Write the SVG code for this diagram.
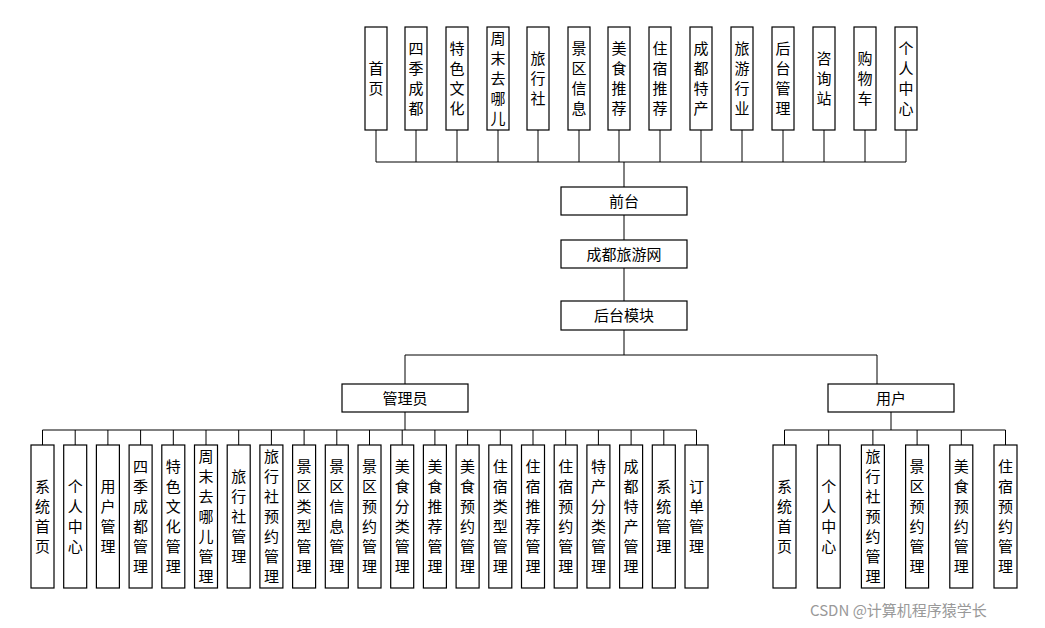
<svg xmlns="http://www.w3.org/2000/svg" width="1045" height="628" viewBox="0 0 1045 628">
<style>
rect{fill:#fff;stroke:#000;stroke-width:1.2}
text{font-family:"Noto Sans CJK SC","Liberation Sans",sans-serif;font-size:15px;fill:#000;text-anchor:middle}
.c line,.c path{stroke:#000;stroke-width:1;fill:none}
.wm{fill:#999;font-size:15px;text-anchor:start}
</style>
<rect x="0" y="0" width="1045" height="628" style="fill:#fff;stroke:none"/>
<g class="c">
<path d="M376 130V162M416 130V162M457 130V162M498 130V162M538 130V162M579 130V162M619 130V162M660 130V162M701 130V162M742 130V162M783 130V162M824 130V162M865 130V162M906 130V162M376 162H906M624 162V187M624 215V240M624 268V301M624 330V355M405 355H877M405 355V384M877 355V384M405 412V430M891 412V430M42.5 430H696.5M784.5 430H1005.5"/>
<path d="M42.5 430V445M75.2 430V445M107.9 430V445M140.6 430V445M173.3 430V445M206 430V445M238.7 430V445M271.4 430V445M304.1 430V445M336.8 430V445M369.5 430V445M402.2 430V445M434.9 430V445M467.6 430V445M500.3 430V445M533 430V445M565.7 430V445M598.4 430V445M631.1 430V445M663.8 430V445M696.5 430V445"/>
<path d="M784.5 430V445M828.7 430V445M872.9 430V445M917.1 430V445M961.3 430V445M1005.5 430V445"/>
</g>
<g id="top">
<g id="t1"><rect x="365" y="27" width="22" height="103"/><text x="376" y="74"><tspan x="376">首</tspan><tspan x="376" dy="20">页</tspan></text></g>
<g id="t2"><rect x="405" y="27" width="22" height="103"/><text x="416" y="54"><tspan x="416">四</tspan><tspan x="416" dy="20">季</tspan><tspan x="416" dy="20">成</tspan><tspan x="416" dy="20">都</tspan></text></g>
<g id="t3"><rect x="446" y="27" width="22" height="103"/><text x="457" y="54"><tspan x="457">特</tspan><tspan x="457" dy="20">色</tspan><tspan x="457" dy="20">文</tspan><tspan x="457" dy="20">化</tspan></text></g>
<g id="t4"><rect x="487" y="27" width="22" height="103"/><text x="498" y="44"><tspan x="498">周</tspan><tspan x="498" dy="20">末</tspan><tspan x="498" dy="20">去</tspan><tspan x="498" dy="20">哪</tspan><tspan x="498" dy="20">儿</tspan></text></g>
<g id="t5"><rect x="527" y="27" width="22" height="103"/><text x="538" y="64"><tspan x="538">旅</tspan><tspan x="538" dy="20">行</tspan><tspan x="538" dy="20">社</tspan></text></g>
<g id="t6"><rect x="568" y="27" width="22" height="103"/><text x="579" y="54"><tspan x="579">景</tspan><tspan x="579" dy="20">区</tspan><tspan x="579" dy="20">信</tspan><tspan x="579" dy="20">息</tspan></text></g>
<g id="t7"><rect x="608" y="27" width="22" height="103"/><text x="619" y="54"><tspan x="619">美</tspan><tspan x="619" dy="20">食</tspan><tspan x="619" dy="20">推</tspan><tspan x="619" dy="20">荐</tspan></text></g>
<g id="t8"><rect x="649" y="27" width="22" height="103"/><text x="660" y="54"><tspan x="660">住</tspan><tspan x="660" dy="20">宿</tspan><tspan x="660" dy="20">推</tspan><tspan x="660" dy="20">荐</tspan></text></g>
<g id="t9"><rect x="690" y="27" width="22" height="103"/><text x="701" y="54"><tspan x="701">成</tspan><tspan x="701" dy="20">都</tspan><tspan x="701" dy="20">特</tspan><tspan x="701" dy="20">产</tspan></text></g>
<g id="t10"><rect x="731" y="27" width="22" height="103"/><text x="742" y="54"><tspan x="742">旅</tspan><tspan x="742" dy="20">游</tspan><tspan x="742" dy="20">行</tspan><tspan x="742" dy="20">业</tspan></text></g>
<g id="t11"><rect x="772" y="27" width="22" height="103"/><text x="783" y="54"><tspan x="783">后</tspan><tspan x="783" dy="20">台</tspan><tspan x="783" dy="20">管</tspan><tspan x="783" dy="20">理</tspan></text></g>
<g id="t12"><rect x="813" y="27" width="22" height="103"/><text x="824" y="64"><tspan x="824">咨</tspan><tspan x="824" dy="20">询</tspan><tspan x="824" dy="20">站</tspan></text></g>
<g id="t13"><rect x="854" y="27" width="22" height="103"/><text x="865" y="64"><tspan x="865">购</tspan><tspan x="865" dy="20">物</tspan><tspan x="865" dy="20">车</tspan></text></g>
<g id="t14"><rect x="895" y="27" width="22" height="103"/><text x="906" y="54"><tspan x="906">个</tspan><tspan x="906" dy="20">人</tspan><tspan x="906" dy="20">中</tspan><tspan x="906" dy="20">心</tspan></text></g>
</g>
<g id="qiantai"><rect x="561" y="187" width="126" height="28"/><text x="624" y="207">前台</text></g>
<g id="root"><rect x="561" y="240" width="126" height="28"/><text x="624" y="260">成都旅游网</text></g>
<g id="houtai"><rect x="561" y="301" width="126" height="29"/><text x="624" y="321">后台模块</text></g>
<g id="admin"><rect x="342" y="384" width="126" height="28"/><text x="405" y="404">管理员</text></g>
<g id="user"><rect x="828" y="384" width="126" height="28"/><text x="891" y="404">用户</text></g>
<g id="adminItems">
<g><rect x="31" y="445" width="23" height="143"/><text x="42.5" y="492"><tspan x="42.5">系</tspan><tspan x="42.5" dy="20">统</tspan><tspan x="42.5" dy="20">首</tspan><tspan x="42.5" dy="20">页</tspan></text></g>
<g><rect x="63.7" y="445" width="23" height="143"/><text x="75.2" y="492"><tspan x="75.2">个</tspan><tspan x="75.2" dy="20">人</tspan><tspan x="75.2" dy="20">中</tspan><tspan x="75.2" dy="20">心</tspan></text></g>
<g><rect x="96.4" y="445" width="23" height="143"/><text x="107.9" y="492"><tspan x="107.9">用</tspan><tspan x="107.9" dy="20">户</tspan><tspan x="107.9" dy="20">管</tspan><tspan x="107.9" dy="20">理</tspan></text></g>
<g><rect x="129.1" y="445" width="23" height="143"/><text x="140.6" y="472"><tspan x="140.6">四</tspan><tspan x="140.6" dy="20">季</tspan><tspan x="140.6" dy="20">成</tspan><tspan x="140.6" dy="20">都</tspan><tspan x="140.6" dy="20">管</tspan><tspan x="140.6" dy="20">理</tspan></text></g>
<g><rect x="161.8" y="445" width="23" height="143"/><text x="173.3" y="472"><tspan x="173.3">特</tspan><tspan x="173.3" dy="20">色</tspan><tspan x="173.3" dy="20">文</tspan><tspan x="173.3" dy="20">化</tspan><tspan x="173.3" dy="20">管</tspan><tspan x="173.3" dy="20">理</tspan></text></g>
<g><rect x="194.5" y="445" width="23" height="143"/><text x="206" y="462"><tspan x="206">周</tspan><tspan x="206" dy="20">末</tspan><tspan x="206" dy="20">去</tspan><tspan x="206" dy="20">哪</tspan><tspan x="206" dy="20">儿</tspan><tspan x="206" dy="20">管</tspan><tspan x="206" dy="20">理</tspan></text></g>
<g><rect x="227.2" y="445" width="23" height="143"/><text x="238.7" y="482"><tspan x="238.7">旅</tspan><tspan x="238.7" dy="20">行</tspan><tspan x="238.7" dy="20">社</tspan><tspan x="238.7" dy="20">管</tspan><tspan x="238.7" dy="20">理</tspan></text></g>
<g><rect x="259.9" y="445" width="23" height="143"/><text x="271.4" y="462"><tspan x="271.4">旅</tspan><tspan x="271.4" dy="20">行</tspan><tspan x="271.4" dy="20">社</tspan><tspan x="271.4" dy="20">预</tspan><tspan x="271.4" dy="20">约</tspan><tspan x="271.4" dy="20">管</tspan><tspan x="271.4" dy="20">理</tspan></text></g>
<g><rect x="292.6" y="445" width="23" height="143"/><text x="304.1" y="472"><tspan x="304.1">景</tspan><tspan x="304.1" dy="20">区</tspan><tspan x="304.1" dy="20">类</tspan><tspan x="304.1" dy="20">型</tspan><tspan x="304.1" dy="20">管</tspan><tspan x="304.1" dy="20">理</tspan></text></g>
<g><rect x="325.3" y="445" width="23" height="143"/><text x="336.8" y="472"><tspan x="336.8">景</tspan><tspan x="336.8" dy="20">区</tspan><tspan x="336.8" dy="20">信</tspan><tspan x="336.8" dy="20">息</tspan><tspan x="336.8" dy="20">管</tspan><tspan x="336.8" dy="20">理</tspan></text></g>
<g><rect x="358" y="445" width="23" height="143"/><text x="369.5" y="472"><tspan x="369.5">景</tspan><tspan x="369.5" dy="20">区</tspan><tspan x="369.5" dy="20">预</tspan><tspan x="369.5" dy="20">约</tspan><tspan x="369.5" dy="20">管</tspan><tspan x="369.5" dy="20">理</tspan></text></g>
<g><rect x="390.7" y="445" width="23" height="143"/><text x="402.2" y="472"><tspan x="402.2">美</tspan><tspan x="402.2" dy="20">食</tspan><tspan x="402.2" dy="20">分</tspan><tspan x="402.2" dy="20">类</tspan><tspan x="402.2" dy="20">管</tspan><tspan x="402.2" dy="20">理</tspan></text></g>
<g><rect x="423.4" y="445" width="23" height="143"/><text x="434.9" y="472"><tspan x="434.9">美</tspan><tspan x="434.9" dy="20">食</tspan><tspan x="434.9" dy="20">推</tspan><tspan x="434.9" dy="20">荐</tspan><tspan x="434.9" dy="20">管</tspan><tspan x="434.9" dy="20">理</tspan></text></g>
<g><rect x="456.1" y="445" width="23" height="143"/><text x="467.6" y="472"><tspan x="467.6">美</tspan><tspan x="467.6" dy="20">食</tspan><tspan x="467.6" dy="20">预</tspan><tspan x="467.6" dy="20">约</tspan><tspan x="467.6" dy="20">管</tspan><tspan x="467.6" dy="20">理</tspan></text></g>
<g><rect x="488.8" y="445" width="23" height="143"/><text x="500.3" y="472"><tspan x="500.3">住</tspan><tspan x="500.3" dy="20">宿</tspan><tspan x="500.3" dy="20">类</tspan><tspan x="500.3" dy="20">型</tspan><tspan x="500.3" dy="20">管</tspan><tspan x="500.3" dy="20">理</tspan></text></g>
<g><rect x="521.5" y="445" width="23" height="143"/><text x="533" y="472"><tspan x="533">住</tspan><tspan x="533" dy="20">宿</tspan><tspan x="533" dy="20">推</tspan><tspan x="533" dy="20">荐</tspan><tspan x="533" dy="20">管</tspan><tspan x="533" dy="20">理</tspan></text></g>
<g><rect x="554.2" y="445" width="23" height="143"/><text x="565.7" y="472"><tspan x="565.7">住</tspan><tspan x="565.7" dy="20">宿</tspan><tspan x="565.7" dy="20">预</tspan><tspan x="565.7" dy="20">约</tspan><tspan x="565.7" dy="20">管</tspan><tspan x="565.7" dy="20">理</tspan></text></g>
<g><rect x="586.9" y="445" width="23" height="143"/><text x="598.4" y="472"><tspan x="598.4">特</tspan><tspan x="598.4" dy="20">产</tspan><tspan x="598.4" dy="20">分</tspan><tspan x="598.4" dy="20">类</tspan><tspan x="598.4" dy="20">管</tspan><tspan x="598.4" dy="20">理</tspan></text></g>
<g><rect x="619.6" y="445" width="23" height="143"/><text x="631.1" y="472"><tspan x="631.1">成</tspan><tspan x="631.1" dy="20">都</tspan><tspan x="631.1" dy="20">特</tspan><tspan x="631.1" dy="20">产</tspan><tspan x="631.1" dy="20">管</tspan><tspan x="631.1" dy="20">理</tspan></text></g>
<g><rect x="652.3" y="445" width="23" height="143"/><text x="663.8" y="492"><tspan x="663.8">系</tspan><tspan x="663.8" dy="20">统</tspan><tspan x="663.8" dy="20">管</tspan><tspan x="663.8" dy="20">理</tspan></text></g>
<g><rect x="685" y="445" width="23" height="143"/><text x="696.5" y="492"><tspan x="696.5">订</tspan><tspan x="696.5" dy="20">单</tspan><tspan x="696.5" dy="20">管</tspan><tspan x="696.5" dy="20">理</tspan></text></g>
</g>
<g id="userItems">
<g><rect x="773" y="445" width="23" height="143"/><text x="784.5" y="492"><tspan x="784.5">系</tspan><tspan x="784.5" dy="20">统</tspan><tspan x="784.5" dy="20">首</tspan><tspan x="784.5" dy="20">页</tspan></text></g>
<g><rect x="817.2" y="445" width="23" height="143"/><text x="828.7" y="492"><tspan x="828.7">个</tspan><tspan x="828.7" dy="20">人</tspan><tspan x="828.7" dy="20">中</tspan><tspan x="828.7" dy="20">心</tspan></text></g>
<g><rect x="861.4" y="445" width="23" height="143"/><text x="872.9" y="462"><tspan x="872.9">旅</tspan><tspan x="872.9" dy="20">行</tspan><tspan x="872.9" dy="20">社</tspan><tspan x="872.9" dy="20">预</tspan><tspan x="872.9" dy="20">约</tspan><tspan x="872.9" dy="20">管</tspan><tspan x="872.9" dy="20">理</tspan></text></g>
<g><rect x="905.6" y="445" width="23" height="143"/><text x="917.1" y="472"><tspan x="917.1">景</tspan><tspan x="917.1" dy="20">区</tspan><tspan x="917.1" dy="20">预</tspan><tspan x="917.1" dy="20">约</tspan><tspan x="917.1" dy="20">管</tspan><tspan x="917.1" dy="20">理</tspan></text></g>
<g><rect x="949.8" y="445" width="23" height="143"/><text x="961.3" y="472"><tspan x="961.3">美</tspan><tspan x="961.3" dy="20">食</tspan><tspan x="961.3" dy="20">预</tspan><tspan x="961.3" dy="20">约</tspan><tspan x="961.3" dy="20">管</tspan><tspan x="961.3" dy="20">理</tspan></text></g>
<g><rect x="994" y="445" width="23" height="143"/><text x="1005.5" y="472"><tspan x="1005.5">住</tspan><tspan x="1005.5" dy="20">宿</tspan><tspan x="1005.5" dy="20">预</tspan><tspan x="1005.5" dy="20">约</tspan><tspan x="1005.5" dy="20">管</tspan><tspan x="1005.5" dy="20">理</tspan></text></g>
</g>
<text class="wm" x="810" y="616">CSDN @计算机程序猿学长</text>
</svg>
